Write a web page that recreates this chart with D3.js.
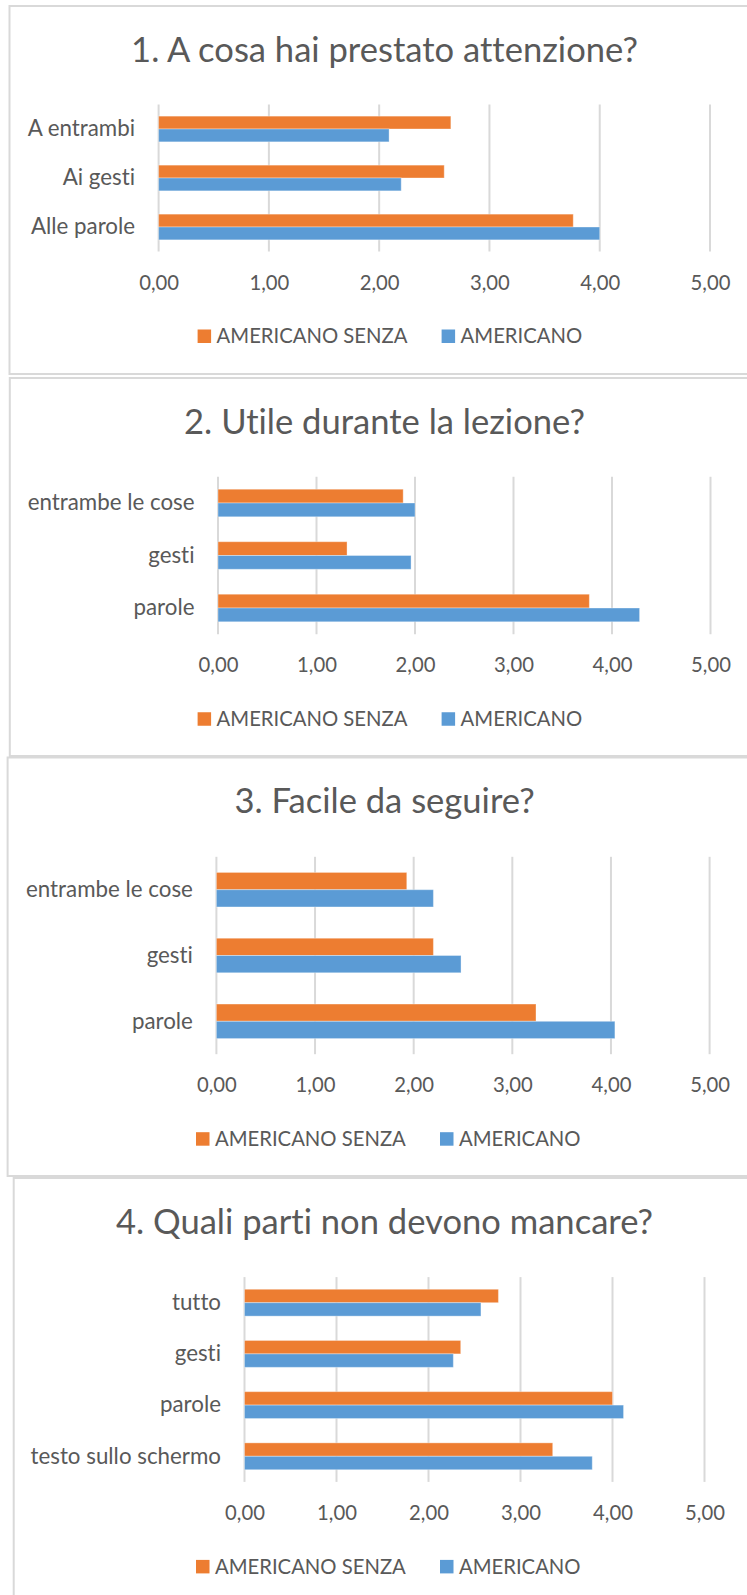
<!DOCTYPE html>
<html lang="it">
<head>
<meta charset="utf-8">
<title>Questionario: AMERICANO vs AMERICANO SENZA</title>
<script src="https://cdn.jsdelivr.net/npm/d3@7/dist/d3.min.js"></script>
<style>
  html, body { margin: 0; padding: 0; background: #ffffff; }
  svg { display: block; }
  text {
    font-family: Lato, "Open Sans", "DejaVu Sans", sans-serif;
    fill: #595959;
    font-variant-ligatures: none;
    font-feature-settings: "liga" 0, "clig" 0;
  }
</style>
</head>
<body>
<svg id="chart" width="747" height="1595"></svg>
<script>
// ---- data -------------------------------------------------------------
const seriesNames = ["AMERICANO SENZA", "AMERICANO"];

const titles = [
  "1. A cosa hai prestato attenzione?",
  "2. Utile durante la lezione?",
  "3. Facile da seguire?",
  "4. Quali parti non devono mancare?"
];

// categories listed top to bottom as they appear in each bar chart
const categories1 = ["A entrambi", "Ai gesti", "Alle parole"];
const senza1      = [2.65, 2.59, 3.76];
const americano1  = [2.09, 2.20, 4.00];

const categories2 = ["entrambe le cose", "gesti", "parole"];
const senza2      = [1.88, 1.31, 3.77];
const americano2  = [2.00, 1.96, 4.28];

const categories3 = ["entrambe le cose", "gesti", "parole"];
const senza3      = [1.93, 2.20, 3.24];
const americano3  = [2.20, 2.48, 4.04];

const categories4 = ["tutto", "gesti", "parole", "testo sullo schermo"];
const senza4      = [2.76, 2.35, 4.00, 3.35];
const americano4  = [2.57, 2.27, 4.12, 3.78];

const tickValues = [0, 1, 2, 3, 4, 5];

// ---- layout (pixel boxes of each panel and its plot area) --------------
const layout = [
  { box: [9.5, 6, 760, 374],      plot: [158.6, 710.0, 104.5, 251.5],   legendX: 197.6 },
  { box: [9.8, 378, 760, 756],    plot: [218.0, 710.5, 476.75, 634.25], legendX: 197.6 },
  { box: [7.6, 757.5, 760, 1176], plot: [216.4, 709.6, 856.8, 1054.2],  legendX: 196.0 },
  { box: [13.7, 1178, 760, 1620], plot: [244.5, 704.5, 1277.1, 1481.9], legendX: 196.0 }
];

const charts = [
  { categories: categories1, senza: senza1, americano: americano1 },
  { categories: categories2, senza: senza2, americano: americano2 },
  { categories: categories3, senza: senza3, americano: americano3 },
  { categories: categories4, senza: senza4, americano: americano4 }
];

const colors = { "AMERICANO SENZA": "#ED7D31", "AMERICANO": "#5B9BD5" };
const gridColor = "#d9d9d9";

const itLocale = d3.formatLocale({ decimal: ",", thousands: ".", grouping: [3], currency: ["€", ""] });
const fmt = itLocale.format(".2f");

const svg = d3.select("#chart");

// Font size that makes `text` render `width` pixels wide in the page font
// (keeps the compact proportions of the Office chart typography).
function fontSizeForWidth(text, width) {
  const probe = svg.append("text").attr("font-size", 100).text(text);
  const len = probe.node().getComputedTextLength();
  probe.remove();
  return 100 * width / len;
}
const titleSize = fontSizeForWidth(titles[0], 507);
const bodySize = fontSizeForWidth(seriesNames[0], 191);
const categorySize = fontSizeForWidth(categories2[0], 167);

charts.forEach((c, i) => {
  const L = layout[i];
  const [bx0, by0, bx1, by1] = L.box;
  const [px0, px1, py0, py1] = L.plot;
  const g = svg.append("g").attr("class", "panel");

  // panel frame
  g.append("rect")
    .attr("x", bx0).attr("y", by0)
    .attr("width", bx1 - bx0).attr("height", by1 - by0)
    .attr("fill", "#ffffff")
    .attr("stroke", gridColor).attr("stroke-width", 2);

  // title
  g.append("text")
    .attr("x", 384.5).attr("y", by0 + 55.5)
    .attr("text-anchor", "middle")
    .attr("font-size", titleSize)
    .text(titles[i]);

  // scales
  const x = d3.scaleLinear().domain([0, 5]).range([px0, px1]);
  const y = d3.scaleBand().domain(c.categories).range([py0, py1])
    .paddingInner(0.475).paddingOuter(0.2375);
  const ySub = d3.scaleBand().domain(seriesNames).range([0, y.bandwidth()]);

  // vertical gridlines (the 0 line doubles as the category axis)
  g.append("g").selectAll("line").data(tickValues).join("line")
    .attr("x1", d => x(d)).attr("x2", d => x(d))
    .attr("y1", py0).attr("y2", py1)
    .attr("stroke", gridColor).attr("stroke-width", 2);

  // bars
  const rows = c.categories.map((cat, k) => ({
    cat,
    values: [
      { series: seriesNames[0], value: c.senza[k] },
      { series: seriesNames[1], value: c.americano[k] }
    ]
  }));
  g.append("g").selectAll("g").data(rows).join("g")
    .attr("transform", d => `translate(0,${y(d.cat)})`)
    .selectAll("rect").data(d => d.values).join("rect")
      .attr("x", x(0))
      .attr("y", d => ySub(d.series))
      .attr("width", d => x(d.value) - x(0))
      .attr("height", ySub.bandwidth())
      .attr("fill", d => colors[d.series])
      .attr("stroke", "#ffffff").attr("stroke-opacity", 0.35).attr("stroke-width", 1);

  // value axis labels
  const xAxis = g.append("g")
    .attr("transform", `translate(0,${py1})`)
    .call(d3.axisBottom(x).tickValues(tickValues).tickSize(0).tickFormat(fmt));
  xAxis.select(".domain").remove();
  xAxis.selectAll("text")
    .attr("y", 38).attr("dy", 0)
    .attr("font-size", bodySize)
    .attr("font-family", null)
    .style("fill", "#595959");

  // category labels
  const yAxis = g.append("g")
    .attr("transform", `translate(${px0},0)`)
    .call(d3.axisLeft(y).tickSize(0).tickPadding(23.5));
  yAxis.select(".domain").remove();
  yAxis.selectAll("text")
    .attr("dy", "0.33em")
    .attr("font-size", categorySize)
    .attr("font-family", null)
    .style("fill", "#595959");

  // legend
  const ly = py1 + 78;
  const legend = g.append("g").attr("transform", `translate(${L.legendX},${ly})`);
  const item = legend.selectAll("g").data(seriesNames).join("g")
    .attr("transform", (d, k) => `translate(${k === 0 ? 0 : 244},0)`);
  item.append("rect")
    .attr("width", 13.5).attr("height", 13.5)
    .attr("fill", d => colors[d]);
  item.append("text")
    .attr("x", 19).attr("y", 13.8)
    .attr("font-size", bodySize)
    .text(d => d);
});
</script>
</body>
</html>
